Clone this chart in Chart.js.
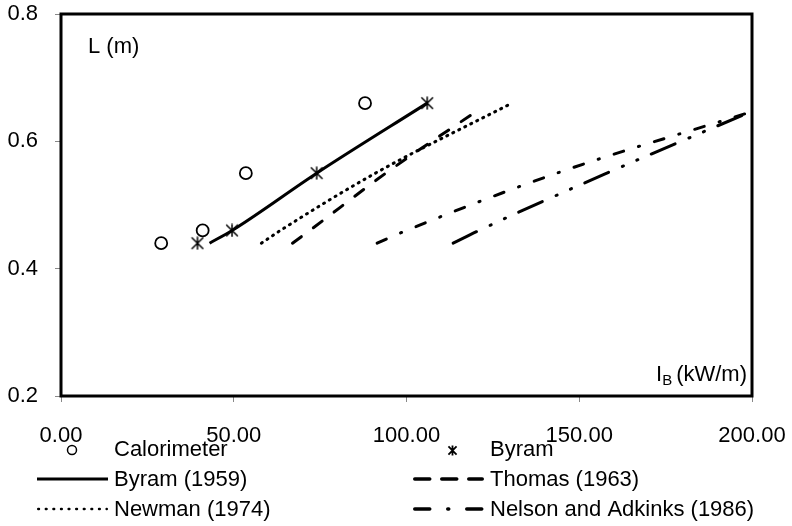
<!DOCTYPE html>
<html>
<head>
<meta charset="utf-8">
<script src="https://cdn.jsdelivr.net/npm/chart.js@4.4.1/dist/chart.umd.min.js"></script>
<style>
  html, body { margin: 0; padding: 0; background: #fff; }
</style>
</head>
<body>
<canvas id="chart" width="792" height="526"></canvas>
<script>
// ─── Data (I_B in kW/m, L in m) ─────────────────────────────────────────
const calorimeterI = [29, 41, 53.5, 88];
const calorimeterL = [0.44, 0.46, 0.55, 0.66];

const byramI = [39.5, 49.5, 74, 106];
const byramL = [0.44, 0.46, 0.55, 0.66];

const byram1959I = [43, 49.5, 74, 106];
const byram1959L = [0.44, 0.46, 0.55, 0.66];

const thomasI = [67, 72, 94, 121];
const thomasL = [0.44, 0.46, 0.55, 0.65];

const newmanI = [58, 63.5, 91, 130.5];
const newmanL = [0.44, 0.46, 0.55, 0.66];

const nelsonI = [91.5, 100, 143.5, 199];
const nelsonL = [0.44, 0.46, 0.55, 0.645];

// seventh curve: drawn in the plot but cut off from the legend
const extraI = [113.5, 121, 158, 199];
const extraL = [0.44, 0.46, 0.55, 0.645];

const xTicks = [0, 50, 100, 150, 200];
const yTicks = [0.2, 0.4, 0.6, 0.8];

const FONT = "'Liberation Sans', Arial, sans-serif";

function pts(xs, ys) {
  return xs.map((x, i) => ({ x, y: ys[i] }));
}

// Excel style star marker: an X with a vertical bar through it
function makeStar(size, lw) {
  const c = document.createElement("canvas");
  c.width = size;
  c.height = size;
  const g = c.getContext("2d");
  g.strokeStyle = "#000";
  g.lineWidth = lw;
  const a = lw * 0.8, b = size - lw * 0.8;
  g.beginPath();
  g.moveTo(a, a); g.lineTo(b, b);
  g.moveTo(b, a); g.lineTo(a, b);
  g.moveTo(size / 2, 0.5); g.lineTo(size / 2, size - 0.5);
  g.stroke();
  return c;
}
const starBig = makeStar(14, 1.5);
const starSmall = makeStar(11, 1.8);

function lineSet(label, xs, ys, dash, sample) {
  return {
    label,
    data: pts(xs, ys),
    showLine: true,
    borderColor: "#000",
    borderWidth: 3,
    borderDash: dash,
    borderCapStyle: dash.length ? "round" : "butt",
    cubicInterpolationMode: "monotone",
    pointRadius: 0,
    fill: false,
    sample,
  };
}

const datasets = [
  {
    label: "Calorimeter",
    data: pts(calorimeterI, calorimeterL),
    showLine: false,
    pointStyle: "circle",
    pointRadius: 6,
    pointBorderWidth: 1.8,
    pointBorderColor: "#000",
    pointBackgroundColor: "#fff",
    sample: { marker: "circle" },
  },
  {
    label: "Byram",
    data: pts(byramI, byramL),
    showLine: false,
    pointStyle: starBig,
    pointRadius: 7,
    sample: { marker: "star" },
  },
  lineSet("Byram (1959)", byram1959I, byram1959L, [], { dash: [], width: 3 }),
  lineSet("Thomas (1963)", thomasI, thomasL, [11, 15], { dash: [15, 12], width: 3.5 }),
  lineSet("Newman (1974)", newmanI, newmanL, [1.1, 5.6], { dash: [0.8, 6.8], width: 2.4 }),
  lineSet("Nelson and Adkinks (1986)", nelsonI, nelsonL, [10, 15.5, 1.2, 15.5], { dash: [15, 18, 1, 18], width: 3.5 }),
  lineSet("", extraI, extraL, [26, 15, 1.2, 14.5, 1.2, 14.5], null),
];

// ─── Plugins ────────────────────────────────────────────────────────────
const frame = {
  id: "frame",
  afterDatasetsDraw(chart) {
    const { ctx, chartArea: a } = chart;
    ctx.save();
    ctx.strokeStyle = "#000";
    ctx.lineWidth = 3;
    ctx.strokeRect(a.left, a.top, a.right - a.left, a.bottom - a.top);
    ctx.restore();
  },
};

const axisTitles = {
  id: "axisTitles",
  afterDraw(chart) {
    const { ctx, chartArea: a } = chart;
    ctx.save();
    ctx.fillStyle = "#000";
    ctx.textBaseline = "middle";
    ctx.textAlign = "left";
    ctx.font = `22px ${FONT}`;
    ctx.fillText("L (m)", a.left + 27, a.top + 33);

    // I_B (kW/m), right aligned in the lower right corner
    const unit = "(kW/m)";
    const uw = ctx.measureText(unit).width;
    const ux = a.right - 5 - uw;
    const y = a.bottom - 21;
    ctx.fillText(unit, ux, y);
    ctx.font = `15px ${FONT}`;
    const bw = ctx.measureText("B").width;
    ctx.fillText("B", ux - 4 - bw, y + 6);
    ctx.font = `22px ${FONT}`;
    const iw = ctx.measureText("I").width;
    ctx.fillText("I", ux - 4 - bw - iw, y);
    ctx.restore();
  },
};

const legendGrid = {
  id: "legendGrid",
  afterDraw(chart) {
    const ctx = chart.ctx;
    const cols = [37, 413];
    const rows = [449, 479, 509];
    const sampleW = 71;
    let k = 0;
    chart.data.datasets.forEach((ds) => {
      if (!ds.sample) return;
      const x0 = cols[k % 2];
      const y = rows[Math.floor(k / 2)];
      k++;
      ctx.save();
      ctx.strokeStyle = "#000";
      ctx.fillStyle = "#000";
      const s = ds.sample;
      if (s.marker === "circle") {
        ctx.lineWidth = 1.5;
        ctx.fillStyle = "#fff";
        ctx.beginPath();
        ctx.arc(x0 + 35, y + 1, 4.5, 0, Math.PI * 2);
        ctx.fill();
        ctx.stroke();
      } else if (s.marker === "star") {
        ctx.drawImage(starSmall, Math.round(x0 + 39 - 5.5), Math.round(y + 1 - 5.5));
      } else {
        ctx.lineWidth = s.width;
        ctx.setLineDash(s.dash);
        ctx.lineCap = s.dash.length ? "round" : "butt";
        const pad = s.dash.length ? s.width / 2 : 0;
        ctx.beginPath();
        ctx.moveTo(x0 + pad, y);
        ctx.lineTo(x0 + sampleW - pad, y);
        ctx.stroke();
      }
      ctx.setLineDash([]);
      ctx.fillStyle = "#000";
      ctx.font = `22px ${FONT}`;
      ctx.textAlign = "left";
      ctx.textBaseline = "middle";
      ctx.fillText(ds.label, x0 + 77, y + 1);
      ctx.restore();
    });
  },
};

// ─── Chart ──────────────────────────────────────────────────────────────
new Chart(document.getElementById("chart"), {
  type: "scatter",
  data: { datasets },
  plugins: [frame, axisTitles, legendGrid],
  options: {
    responsive: false,
    animation: false,
    devicePixelRatio: 1,
    layout: { padding: { top: 14, right: 40, left: 0, bottom: 0 } },
    plugins: {
      legend: { display: false },
      tooltip: { enabled: false },
    },
    scales: {
      x: {
        type: "linear",
        min: xTicks[0],
        max: xTicks[xTicks.length - 1],
        afterFit: (s) => {
          s.height = 130;
          s.paddingLeft = 0;
          s.paddingRight = 0;
        },
        afterBuildTicks: (s) => { s.ticks = xTicks.map((v) => ({ value: v })); },
        border: { display: false },
        grid: { drawOnChartArea: false, drawTicks: true, tickLength: 6, color: "#888", lineWidth: 1 },
        ticks: {
          padding: 21,
          color: "#000",
          font: { family: FONT, size: 22 },
          maxRotation: 0,
          callback: (v) => Number(v).toFixed(2),
        },
      },
      y: {
        type: "linear",
        min: yTicks[0],
        max: yTicks[yTicks.length - 1],
        afterFit: (s) => {
          s.width = 61;
          s.paddingTop = 0;
          s.paddingBottom = 0;
        },
        afterBuildTicks: (s) => { s.ticks = yTicks.map((v) => ({ value: v })); },
        border: { display: false },
        grid: { drawOnChartArea: false, drawTicks: true, tickLength: 6, color: "#888", lineWidth: 1 },
        ticks: {
          padding: 17,
          color: "#000",
          font: { family: FONT, size: 22 },
          callback: (v) => Number(v).toFixed(1),
        },
      },
    },
  },
});
</script>
</body>
</html>
